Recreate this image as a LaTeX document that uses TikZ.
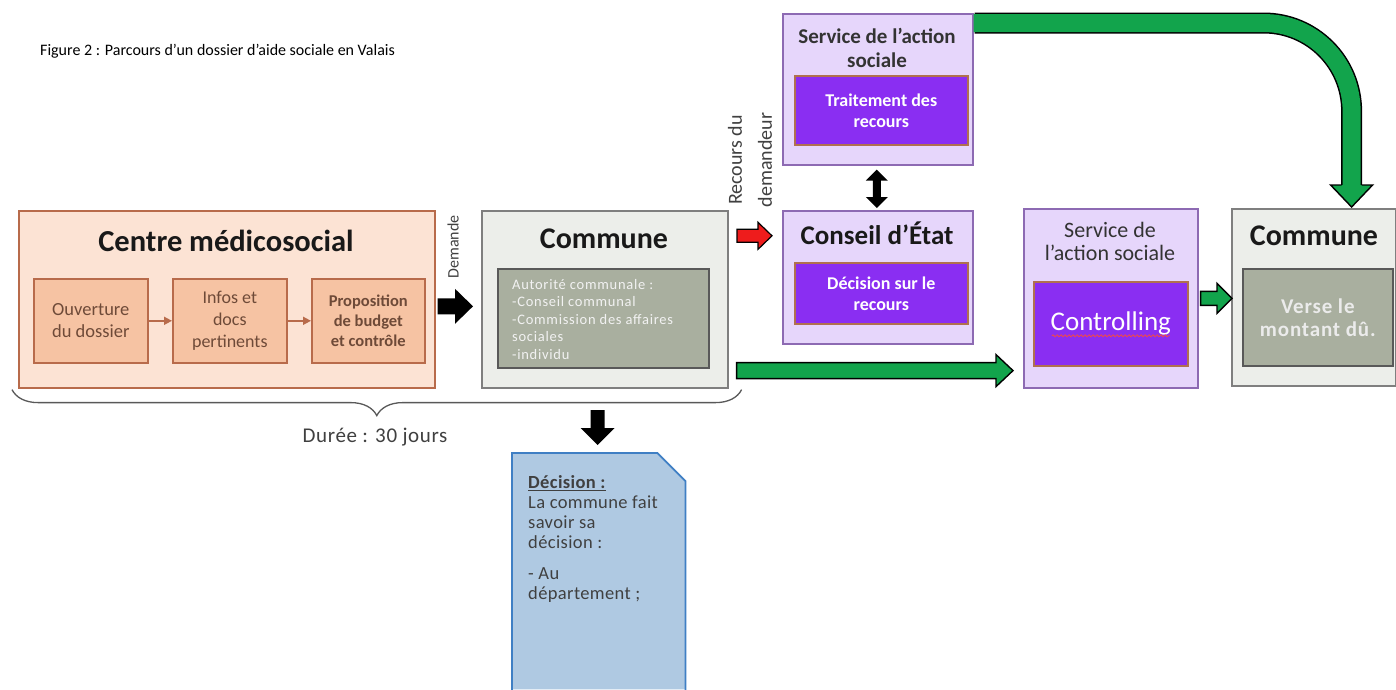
\documentclass[tikz,border=0pt]{standalone}
\usepackage{fontspec}
\setmainfont{Carlito}
\usetikzlibrary{calc,arrows.meta,decorations.pathreplacing,decorations.pathmorphing}
\definecolor{peachbg}{HTML}{FCE3D4}
\definecolor{peachin}{HTML}{F6C3A3}
\definecolor{peachbd}{HTML}{B86B4B}
\definecolor{peachtx}{HTML}{6E4A38}
\definecolor{combg}{HTML}{ECEEEA}
\definecolor{combd}{HTML}{7F7F7F}
\definecolor{comin}{HTML}{A9AF9F}
\definecolor{comind}{HTML}{595959}
\definecolor{lav}{HTML}{E6D6FB}
\definecolor{lavbd}{HTML}{8D6AB3}
\definecolor{viol}{HTML}{8A2EF2}
\definecolor{violbd}{HTML}{B0704E}
\definecolor{docbg}{HTML}{AFC9E2}
\definecolor{docbd}{HTML}{3F7FC4}
\definecolor{gcol}{HTML}{12A44C}
\definecolor{rcol}{HTML}{EE1C1C}
\newcommand\fs[2]{\fontsize{#1}{#2}\selectfont}
\newcommand\spc[1]{\addfontfeature{LetterSpace=#1}}
% horizontal block arrow: style, from, to, half shaft, half head, head length
\newcommand\harrow[6]{\path[#1] let \p1=(#2), \p2=(#3) in
  (\x1,\y1+#4) -- (\x2-#6,\y1+#4) -- (\x2-#6,\y1+#5) -- (\x2,\y1) --
  (\x2-#6,\y1-#5) -- (\x2-#6,\y1-#4) -- (\x1,\y1-#4) -- cycle;}
% downward block arrow
\newcommand\varrow[6]{\path[#1] let \p1=(#2), \p2=(#3) in
  (\x1+#4,\y1) -- (\x1+#4,\y2+#6) -- (\x1+#5,\y2+#6) -- (\x1,\y2) --
  (\x1-#5,\y2+#6) -- (\x1-#4,\y2+#6) -- (\x1-#4,\y1) -- cycle;}
\begin{document}
\begin{tikzpicture}[x=1pt,y=-1pt,
  box/.style={draw, line width=1.6pt, inner sep=0pt, anchor=north west, align=center},
  cmsbox/.style={box, fill=peachbg, draw=peachbd},
  cmsin/.style={box, fill=peachin, draw=peachbd, text=peachtx},
  combox/.style={box, fill=combg, draw=combd},
  comin/.style={box, fill=comin, draw=comind, text=white},
  lavbox/.style={box, fill=lav, draw=lavbd},
  violbox/.style={box, fill=viol, draw=violbd, text=white},
  brarrow/.style={draw=peachbd, line width=1.6pt, -{Triangle[length=8pt,width=8pt]}},
  title/.style={font=\bfseries\fs{30}{34}, text=black!90},
  blk/.style={fill=black},
  grn/.style={fill=gcol, draw=black, line width=1.4pt, line join=miter},
  red/.style={fill=rcol, draw=black, line width=1.2pt, line join=miter},
  lbl/.style={text=black!75, inner sep=0pt}
]
\useasboundingbox[fill=white] (0,0) rectangle (1396,689);

\node[lbl, anchor=west, font=\fs{16}{19}, text=black] (fig) at (40,51)
  {Figure 2 : Parcours d’un dossier d’aide sociale en Valais};

% Centre medicosocial
\node[cmsbox, minimum width=416pt, minimum height=177pt] (cms) at (18,210) {};
\node[title, font=\bfseries\fs{30.5}{34}] (cmsT) at (226,241) {Centre médicosocial};
\node[cmsin, minimum width=114pt, minimum height=84pt, font=\fs{18.5}{22}] (ouv) at (33,278) {Ouverture\\du dossier};
\node[cmsin, minimum width=114pt, minimum height=84pt, font=\fs{18}{22}] (inf) at (172,278) {Infos et\\docs\\pertinents};
\node[cmsin, minimum width=113pt, minimum height=84pt, font=\bfseries\fs{16.5}{20}] (prop) at (311,278) {Proposition\\de budget\\et contrôle};
\draw[brarrow] (ouv) -- (inf);
\draw[brarrow] (inf) -- (prop);

% Commune
\node[combox, minimum width=246pt, minimum height=177pt] (com) at (481,210) {};
\node[title] (comT) at (604,239) {Commune};
\node[comin, minimum width=211pt, minimum height=99pt] (comI) at (497,268) {};
\node[anchor=north west, align=left, text=white!95!black, font=\fs{14.5}{17.5}\spc{5}, inner sep=0pt] (comItxt) at (512,279)
  {Autorité communale :\\-Conseil communal\\-Commission des affaires\\sociales\\-individu};

% Service de l'action sociale (recours)
\node[lavbox, minimum width=190pt, minimum height=151pt] (sas1) at (782,13) {};
\node[font=\bfseries\fs{21}{24}, align=center, text=black!80] (sas1T) at (877,48) {Service de l’action\\sociale};
\node[violbox, minimum width=173pt, minimum height=69pt, font=\bfseries\fs{18}{21}] (trait) at (794,75) {Traitement des\\recours};

% Conseil d'Etat
\node[lavbox, minimum width=190pt, minimum height=133pt] (con) at (782,210) {};
\node[title, font=\bfseries\fs{27}{30}] (conT) at (877,233) {Conseil d’État};
\node[violbox, minimum width=173pt, minimum height=61pt, font=\bfseries\fs{18}{21}] (dec) at (794,262) {Décision sur le\\recours};

% Service de l'action sociale (controlling)
\node[lavbox, minimum width=174pt, minimum height=179pt] (sas2) at (1023,208) {};
\node[font=\fs{22}{23}, align=center, text=black!80] (sas2T) at (1110,241) {Service de\\l’action sociale};
\node[violbox, minimum width=154pt, minimum height=84pt, font=\fs{27}{30}] (ctrl) at (1033,281) {Controlling};
\draw[rcol!80!white, line width=0.8pt, decorate, decoration={snake, amplitude=1pt, segment length=4pt}]
  ($(ctrl.center)+(-59,12)$) -- ($(ctrl.center)+(59,12)$);

% Commune (right)
\node[combox, minimum width=164pt, minimum height=177pt] (com2) at (1231,208) {};
\node[title] (com2T) at (1314,236) {Commune};
\node[comin, minimum width=150pt, minimum height=97pt, font=\bfseries\fs{21}{23}\spc{4}, text=white!92!black] (verse) at (1242,268) {Verse le\\montant dû.};

% Decision document
\node[inner sep=0pt, anchor=north west, minimum width=173pt, minimum height=236pt] (doc) at (512,453) {};
\fill[docbg] (doc.south west) -- (doc.north west) -- ($(doc.north east)+(-28,0)$) -- ($(doc.north east)+(0,28)$) -- (doc.south east) -- cycle;
\draw[docbd, line width=1.8pt] ($(doc.south west)+(0,2)$) -- (doc.north west) -- ($(doc.north east)+(-28,0)$) -- ($(doc.north east)+(0,28)$) -- ($(doc.south east)+(0,2)$);
\node[anchor=north west, align=left, inner sep=0pt, font=\fs{18.5}{20}\spc{2}, text=black!75] (docT) at (528,475)
  {\underline{\textbf{Décision :}}\\La commune fait\\savoir sa\\décision :\\[11pt]- Au\\département ;};

% Brace and duration
\draw[black!65, line width=1.3pt, decorate, decoration={brace, mirror, amplitude=26pt}]
  ($(cms.south west)+(-6,1)$) -- ($(com.south east)+(13,1)$);
\node[lbl, font=\fs{21}{24}\spc{3}] (duree) at (375,437) {Durée : 30 jours};

% Labels
\node[lbl, rotate=90, font=\fs{16}{20}] (demL) at (453,247) {Demande};
\node[lbl, rotate=90, align=center, font=\fs{20}{30}] (recL) at (750,160) {Recours du\\demandeur};

% Arrows
\harrow{blk}{$(cms.east)+(2,7)$}{$(com.west)+(-8,7)$}{8pt}{17.5pt}{18pt}
\varrow{blk}{$(doc.north)+(-1,-43)$}{$(doc.north)+(-1,-8)$}{7pt}{17pt}{17pt}
\harrow{red}{$(con.west)+(-45,-41.5)$}{$(con.west)+(-10,-41.5)$}{6.5pt}{13.5pt}{14pt}
\harrow{grn}{$(com.south east)+(8,-18)$}{$(sas2.west)+(-10,71.5)$}{8pt}{16pt}{17pt}
\harrow{grn}{$(sas2.east)+(2,0)$}{$(com2.west)+(1,0)$}{7pt}{15pt}{15pt}
% double arrow
\path[blk] let \p1=($(sas1.south)+(-1,4)$), \p2=($(con.north)+(-1,-2)$) in
  (\x1,\y1) -- (\x1+11pt,\y1-11pt) -- (\x1+4pt,\y1-11pt) -- (\x1+4pt,\y2+11pt) --
  (\x1+11pt,\y2+11pt) -- (\x1,\y2) -- (\x1-11pt,\y2+11pt) -- (\x1-4pt,\y2+11pt) --
  (\x1-4pt,\y1-11pt) -- (\x1-11pt,\y1-11pt) -- cycle;
% big curved green arrow
\coordinate (gstart) at ($(sas1.north east)+(1,10)$);
\coordinate (gtip) at ($(com2.north east)+(-45,-1)$);
\draw[line width=21pt, black, rounded corners=88pt] (gstart) -| ($(gtip)+(0,-20)$);
\draw[line width=18pt, gcol, rounded corners=88pt] ($(gstart)+(-1,0)$) -| ($(gtip)+(0,-21)$);
\fill[gcol] let \p1=(gtip) in (\x1-21pt,\y1+22pt) -- (\x1,\y1) -- (\x1+21pt,\y1+22pt) -- cycle;
\draw[black, line width=1.4pt, line join=miter] let \p1=(gtip) in
  (\x1-10pt,\y1+22pt) -- (\x1-21pt,\y1+22pt) -- (\x1,\y1) -- (\x1+21pt,\y1+22pt) -- (\x1+10pt,\y1+22pt);
\end{tikzpicture}
\end{document}
